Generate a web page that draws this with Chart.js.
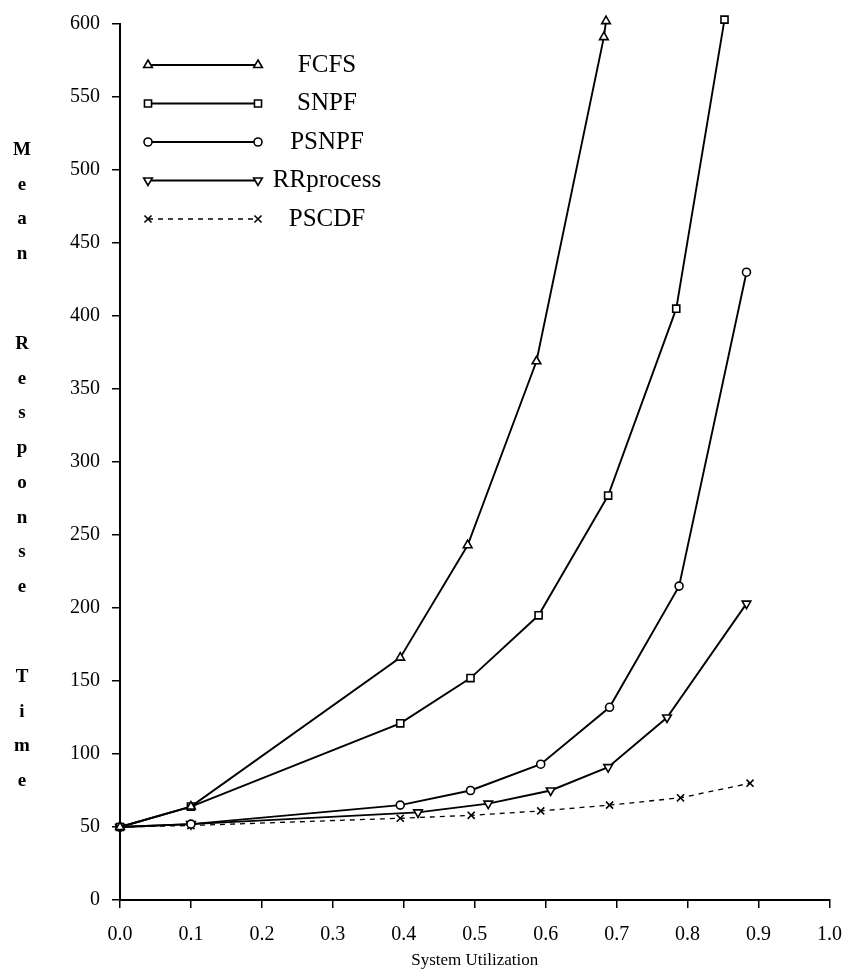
<!DOCTYPE html>
<html>
<head>
<meta charset="utf-8">
<script src="https://cdn.jsdelivr.net/npm/chart.js@4/dist/chart.umd.min.js"></script>
<style>
  body { margin: 0; background: #fff; }
  canvas { display: block; }
</style>
</head>
<body>
<canvas id="grafico" width="857" height="975"></canvas>
<script>
// utilizacao do sistema (x) e tempo medio de resposta (y) por politica
const seriesNames = ['FCFS', 'SNPF', 'PSNPF', 'RRprocess', 'PSCDF'];

const fcfsUtil = [0, 0.1, 0.395, 0.49, 0.587, 0.682, 0.685];
const fcfsTime = [50, 64, 166, 243, 369, 591, 602];

const snpfUtil = [0, 0.1, 0.395, 0.494, 0.59, 0.688, 0.784, 0.852];
const snpfTime = [50, 64, 121, 152, 195, 277, 405, 603];

const psnpfUtil = [0, 0.1, 0.395, 0.494, 0.593, 0.69, 0.788, 0.883];
const psnpfTime = [50, 52, 65, 75, 93, 132, 215, 430];

const rrUtil = [0, 0.1, 0.42, 0.519, 0.607, 0.688, 0.771, 0.883];
const rrTime = [50, 52, 60, 66, 75, 91, 125, 203];

const pscdfUtil = [0, 0.1, 0.395, 0.495, 0.593, 0.69, 0.79, 0.888];
const pscdfTime = [50, 51, 56, 58, 61, 65, 70, 80];

const xTicks = [0, 0.1, 0.2, 0.3, 0.4, 0.5, 0.6, 0.7, 0.8, 0.9, 1.0];
const yTicks = [0, 50, 100, 150, 200, 250, 300, 350, 400, 450, 500, 550, 600];
const yTitleWords = ['Mean', 'Response', 'Time'];

const SERIF = "'Liberation Serif', 'DejaVu Serif', serif";

function pontos(xs, ys) {
  return xs.map((x, i) => ({ x, y: ys[i] }));
}

const estilos = [
  { pointStyle: 'triangle', radius: 5, rotation: 0, dash: [] },
  { pointStyle: 'rect', radius: 5, rotation: 0, dash: [] },
  { pointStyle: 'circle', radius: 4, rotation: 0, dash: [] },
  { pointStyle: 'triangle', radius: 5, rotation: 180, dash: [] },
  { pointStyle: 'crossRot', radius: 5, rotation: 0, dash: [5, 5] }
];

const series = [
  pontos(fcfsUtil, fcfsTime),
  pontos(snpfUtil, snpfTime),
  pontos(psnpfUtil, psnpfTime),
  pontos(rrUtil, rrTime),
  pontos(pscdfUtil, pscdfTime)
];

const datasets = series.map((data, i) => ({
  label: seriesNames[i],
  data,
  showLine: true,
  clip: false,
  borderColor: '#000',
  backgroundColor: '#fff',
  borderWidth: i === 4 ? 1.3 : 1.9,
  borderDash: estilos[i].dash,
  pointStyle: estilos[i].pointStyle,
  pointRadius: estilos[i].radius,
  pointRotation: estilos[i].rotation,
  pointBorderColor: '#000',
  pointBackgroundColor: '#fff',
  pointBorderWidth: 1.6,
  tension: 0
}));

// legenda desenhada a mao: linha com marcador nas duas pontas e nome centrado
const legendaManual = {
  id: 'legendaManual',
  afterDatasetsDraw(chart) {
    const ctx = chart.ctx;
    const x0 = 148, x1 = 258, xText = 327;
    ctx.save();
    chart.data.datasets.forEach((ds, i) => {
      const y = 65 + i * 38.5;
      ctx.strokeStyle = '#000';
      ctx.lineWidth = ds.borderWidth;
      ctx.setLineDash(ds.borderDash);
      ctx.beginPath();
      ctx.moveTo(x0, y);
      ctx.lineTo(x1, y);
      ctx.stroke();
      ctx.setLineDash([]);
      ctx.fillStyle = '#fff';
      ctx.lineWidth = 1.6;
      const opts = { pointStyle: ds.pointStyle, radius: ds.pointRadius, rotation: ds.pointRotation, borderWidth: 1.6 };
      Chart.helpers.drawPoint(ctx, opts, x0, y);
      Chart.helpers.drawPoint(ctx, opts, x1, y);
      ctx.fillStyle = '#000';
      ctx.font = '25px ' + SERIF;
      ctx.textAlign = 'center';
      ctx.textBaseline = 'middle';
      ctx.fillText(ds.label, xText, y);
    });
    ctx.restore();
  }
};

// titulo do eixo y com as letras empilhadas
const tituloVertical = {
  id: 'tituloVertical',
  afterDraw(chart) {
    const ctx = chart.ctx;
    ctx.save();
    ctx.fillStyle = '#000';
    ctx.font = 'bold 19px ' + SERIF;
    ctx.textAlign = 'center';
    ctx.textBaseline = 'middle';
    let y = 150;
    yTitleWords.forEach((palavra, w) => {
      if (w > 0) y += 90;
      [...palavra].forEach((letra, k) => {
        if (k > 0) y += 34.7;
        ctx.fillText(letra, 22, y);
      });
    });
    ctx.restore();
  }
};

new Chart(document.getElementById('grafico'), {
  type: 'scatter',
  data: { datasets },
  plugins: [legendaManual, tituloVertical],
  options: {
    responsive: false,
    animation: false,
    layout: { padding: { top: 23, right: 17, bottom: 0, left: 0 } },
    plugins: {
      legend: { display: false },
      tooltip: { enabled: false }
    },
    scales: {
      x: {
        type: 'linear',
        min: 0,
        max: 1,
        afterFit: s => { s.height = 75; },
        afterBuildTicks: s => { s.ticks = xTicks.map(v => ({ value: v })); },
        border: { color: '#000', width: 2 },
        grid: { drawOnChartArea: false, color: '#000', lineWidth: 1.5, tickLength: 8 },
        ticks: {
          color: '#000',
          font: { family: SERIF, size: 20 },
          padding: 15,
          maxRotation: 0,
          callback: v => v.toFixed(1)
        },
        title: {
          display: true,
          text: 'System Utilization',
          color: '#000',
          font: { family: SERIF, size: 17 },
          padding: { top: 0, bottom: 4 }
        }
      },
      y: {
        type: 'linear',
        min: 0,
        max: 600,
        afterFit: s => { s.width = 120; },
        afterBuildTicks: s => { s.ticks = yTicks.map(v => ({ value: v })); },
        border: { color: '#000', width: 2 },
        grid: { drawOnChartArea: false, color: '#000', lineWidth: 1.5, tickLength: 8 },
        ticks: {
          color: '#000',
          font: { family: SERIF, size: 20 },
          padding: 12
        }
      }
    }
  }
});
</script>
</body>
</html>
